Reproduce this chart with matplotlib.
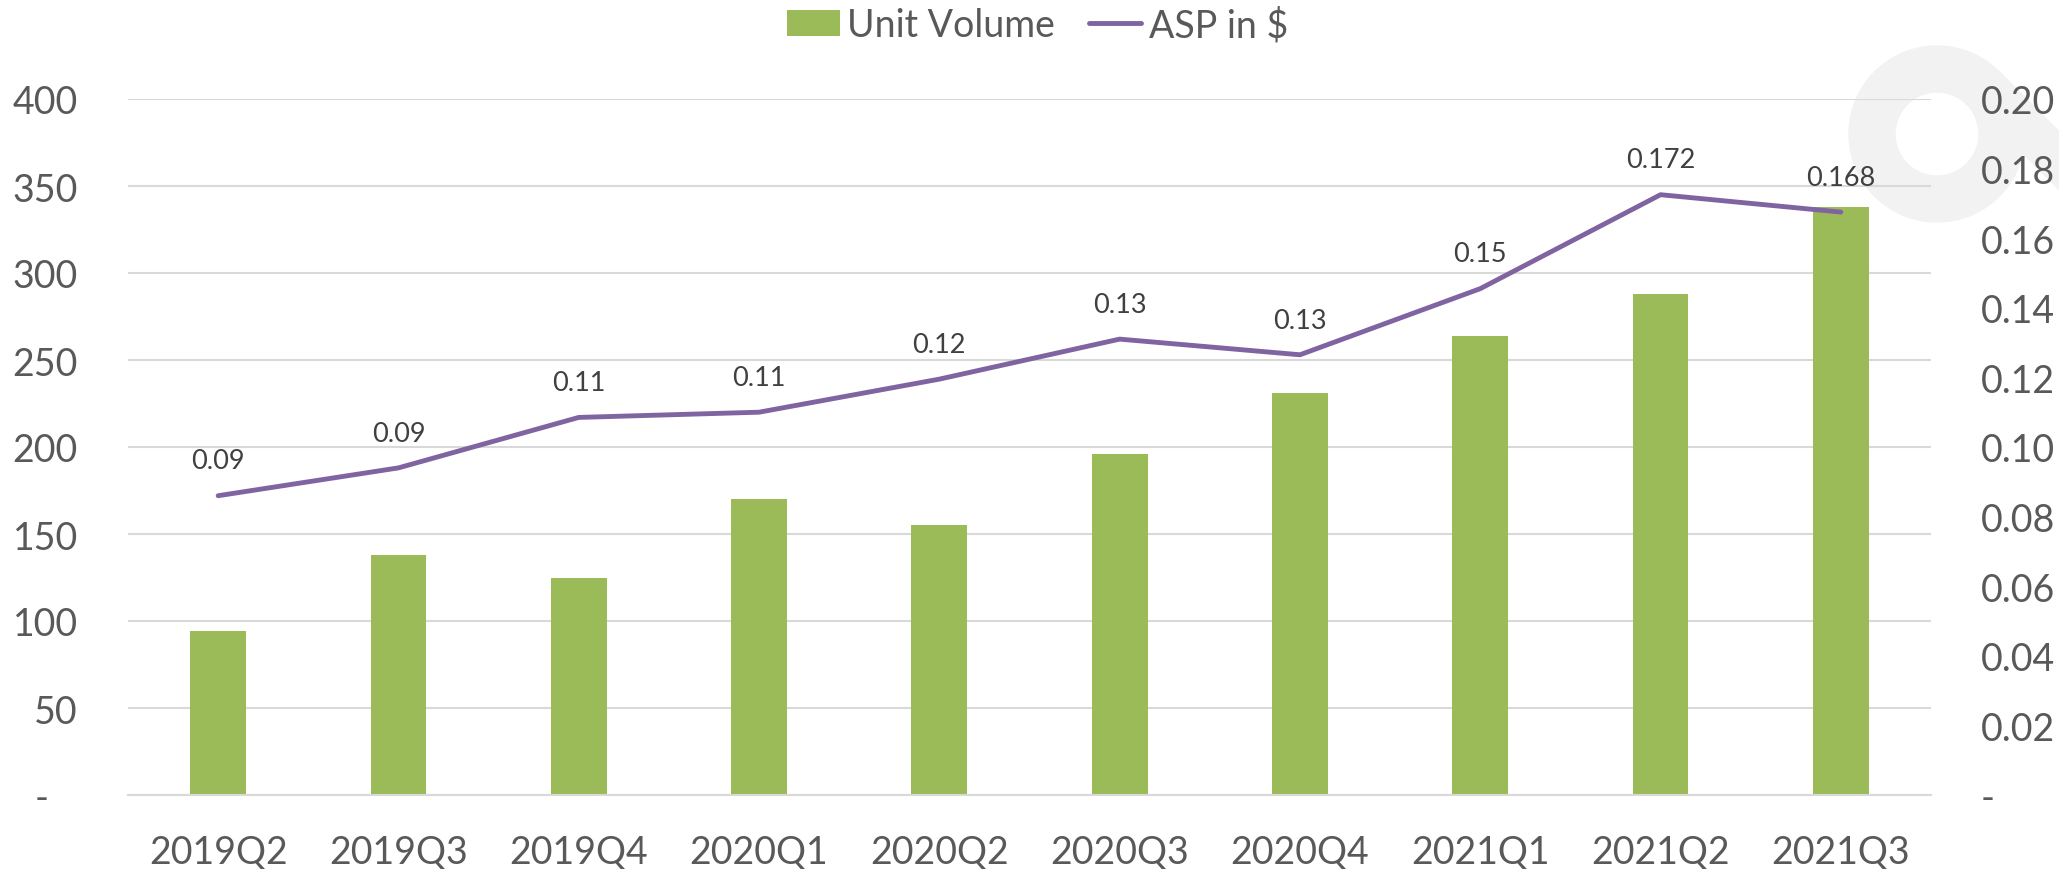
import matplotlib
matplotlib.use('Agg')
import matplotlib.pyplot as plt
from matplotlib.patches import Wedge, Polygon
import numpy as np

quarters = ['2019Q2', '2019Q3', '2019Q4', '2020Q1', '2020Q2',
            '2020Q3', '2020Q4', '2021Q1', '2021Q2', '2021Q3']
unit_volume = [94, 138, 125, 170, 155, 196, 231, 264, 288, 338]
asp = [0.086, 0.094, 0.1085, 0.110, 0.1195, 0.131, 0.1265, 0.1455, 0.1725, 0.1675]
asp_labels = ['0.09', '0.09', '0.11', '0.11', '0.12', '0.13', '0.13', '0.15', '0.172', '0.168']
left_ticks = [0, 50, 100, 150, 200, 250, 300, 350, 400]
right_ticks = [0, 0.02, 0.04, 0.06, 0.08, 0.10, 0.12, 0.14, 0.16, 0.18, 0.20]

green = '#9BBB59'
purple = '#8064A2'
grid_col = '#D9D9D9'
tick_col = '#595959'

plt.rcParams['font.family'] = ['Lato', 'DejaVu Sans']

fig = plt.figure(figsize=(20.59, 8.70), dpi=100)
ax = fig.add_axes([128/2059, 1-796/870, (1931-128)/2059, (796-100)/870])
ax.patch.set_visible(False)

x = np.arange(len(quarters))
bars = ax.bar(x, unit_volume, width=0.31, color=green, zorder=2, label='Unit Volume')
ax.set_xlim(-0.5, len(quarters)-0.5)
ax.set_ylim(0, 400)
ax.set_yticks(left_ticks)
ax.set_yticklabels(['-   '] + [str(v) for v in left_ticks[1:]])
ax.set_xticks(x)
ax.set_xticklabels(quarters)
ax.yaxis.grid(True, color=grid_col, linewidth=1.5, zorder=0)
ax.set_axisbelow(True)
for s in ['top', 'left', 'right']:
    ax.spines[s].set_visible(False)
ax.spines['bottom'].set_color(grid_col)
ax.spines['bottom'].set_linewidth(1.5)
ax.tick_params(axis='both', length=0, labelsize=27, colors=tick_col)
ax.tick_params(axis='y', pad=36)
ax.tick_params(axis='x', pad=28)

ax2 = ax.twinx()
ax2.patch.set_visible(False)
line, = ax2.plot(x, asp, color=purple, linewidth=3.5, solid_capstyle='round',
                 label='ASP in $', zorder=3)
ax2.set_ylim(0, 0.20)
ax2.set_yticks(right_ticks)
ax2.set_yticklabels(['-'] + ['%.2f' % v for v in right_ticks[1:]])
for s in ['top', 'left', 'right', 'bottom']:
    ax2.spines[s].set_visible(False)
ax2.tick_params(axis='y', length=0, labelsize=27, colors=tick_col, pad=36)

for xi, yi, lab in zip(x, asp, asp_labels):
    ax2.annotate(lab, (xi, yi), xytext=(0, 25), textcoords='offset points',
                 ha='center', va='center', fontsize=19.5, color='#404040')

fig.legend(handles=[bars, line], labels=['Unit Volume', 'ASP in $'],
           loc='center', bbox_to_anchor=(0.504, 0.97), ncol=2, frameon=False,
           fontsize=27, labelcolor=tick_col, handlelength=1.4, handleheight=0.7,
           handletextpad=0.2, columnspacing=0.9)

# grey watermark ring with tail (top right)
cx, cy = 19.37, (870 - 135) / 100
ring = Wedge((cx, cy), 0.88, 0, 360, width=0.46, color='#F2F2F2',
             transform=fig.dpi_scale_trans, zorder=-1)
fig.add_artist(ring)
d = np.array([1, -1]) / np.sqrt(2)
n = np.array([1, 1]) / np.sqrt(2)
c = np.array([cx, cy])
pts = [c + n*0.47, c + n*0.88, c + n*0.88 + d*3, c + n*0.47 + d*3]
tail = Polygon(pts, closed=True, color='#F2F2F2', transform=fig.dpi_scale_trans, zorder=-1)
fig.add_artist(tail)

plt.savefig('out.png', dpi=100)
